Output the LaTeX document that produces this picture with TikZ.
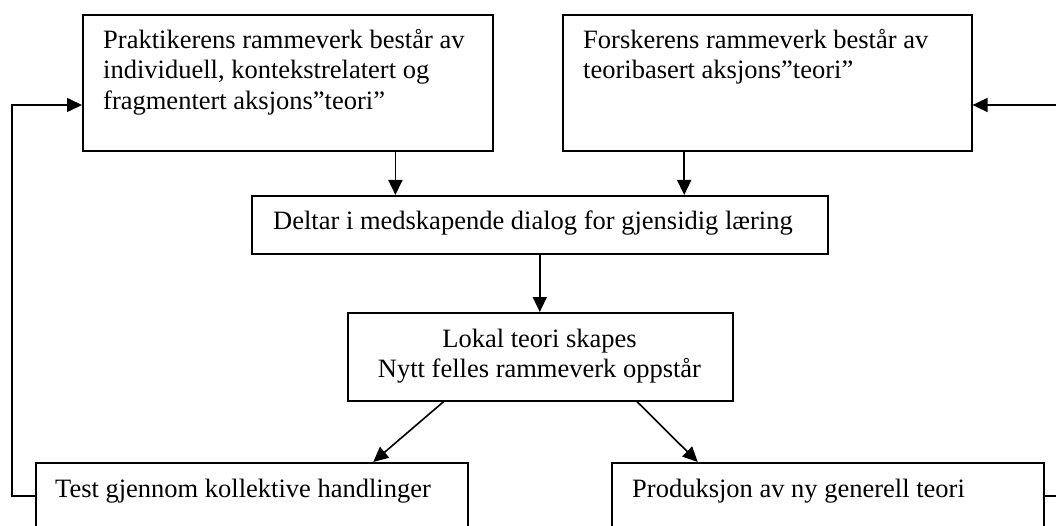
\documentclass[tikz,border=0pt]{standalone}
\usepackage{fontspec}
\setmainfont{Liberation Serif}
\usetikzlibrary{arrows.meta,calc}

\begin{document}
\begin{tikzpicture}[x=1pt,y=-1pt,
  every node/.style={font=\fontsize{26.5}{30.5}\selectfont},
  framebox/.style={draw, line width=1.6pt, rectangle, inner sep=0pt, anchor=north west},
  boxtext/.style={inner sep=0pt, align=left},
  link/.style={line width=1.6pt, -{Triangle[length=15pt,width=14pt]}},
  loop/.style={line width=1.6pt, -{Triangle[length=15pt,width=14pt]}}]
  \useasboundingbox (0,0) rectangle (1056,526);
  \clip (0,0) rectangle (1056,526);

  % frames
  \node[framebox, minimum width=410pt, minimum height=136pt] (prak)  at (82,14)  {};
  \node[framebox, minimum width=409pt, minimum height=136pt] (forsk) at (562,14) {};
  \node[framebox, minimum width=576pt, minimum height=58pt]  (delt)  at (251,195) {};
  \node[framebox, minimum width=385pt, minimum height=88pt]  (lokal) at (347,312) {};
  \node[framebox, minimum width=432pt, minimum height=110pt] (test)  at (35,462) {};
  \node[framebox, minimum width=432pt, minimum height=110pt] (prod)  at (611,462) {};

  % texts
  \node[boxtext, anchor=north west] (prakT) at (103,26.65)
    {\strut Praktikerens rammeverk består av\\individuell, kontekstrelatert og\\fragmentert aksjons”teori”};
  \node[boxtext, anchor=north west] (forskT) at (583,26.65)
    {\strut Forskerens rammeverk består av\\teoribasert aksjons”teori”};
  \node[boxtext, anchor=base west] (deltT) at (273,230)
    {Deltar i medskapende dialog for gjensidig læring};
  \node[boxtext, align=center, anchor=north] (lokalT) at (539.5,325.65)
    {\strut Lokal teori skapes\\Nytt felles rammeverk oppstår};
  \node[boxtext, anchor=base west] (testT) at (55,497)
    {Test gjennom kollektive handlinger};
  \node[boxtext, anchor=base west] (prodT) at (632,497)
    {Produksjon av ny generell teori};

  % points on the frames
  \coordinate (dq1) at ($(delt.north west)!0.25!(delt.north east)$);
  \coordinate (dq3) at ($(delt.north west)!0.75!(delt.north east)$);
  \coordinate (lq1) at ($(lokal.south west)!0.25!(lokal.south east)$);
  \coordinate (lq3) at ($(lokal.south west)!0.75!(lokal.south east)$);
  \coordinate (tin) at ($(test.north west)!0.78!(test.north east)$);
  \coordinate (pin) at ($(prod.north west)!0.2!(prod.north east)$);

  % downward flow
  \draw[link] (dq1 |- prak.south) -- (dq1);
  \draw[link] (dq3 |- forsk.south) -- (dq3);
  \draw[link] (delt.south) -- (delt.south |- lokal.north);
  \draw[link] (lq1) -- (tin);
  \draw[link] (lq3) -- (pin);

  % feedback loops
  \coordinate (lb) at (12,496);
  \coordinate (lt) at (12,105);
  \coordinate (rb) at (1064,496);
  \coordinate (rt) at (1064,105);
  \draw[loop] (test.west |- lb) -- (lb) -- (lt) -- (lt -| prak.west);
  \draw[loop] (prod.east |- rb) -- (rb) -- (rt) -- (rt -| forsk.east);
\end{tikzpicture}
\end{document}
